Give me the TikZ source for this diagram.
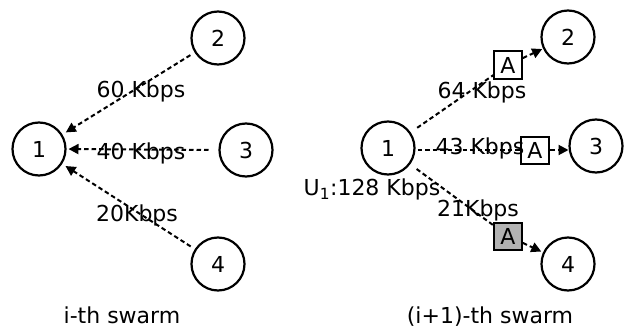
\documentclass[tikz,border=0pt]{standalone}
\usepackage{fontspec}
\setmainfont{DejaVu Sans}
\usetikzlibrary{arrows.meta}
\begin{document}
\begin{tikzpicture}[x=1pt,y=-1pt,
  every node/.style={font=\fontsize{22}{26}\selectfont},
  peer/.style={draw,circle,line width=2.2pt,minimum size=53pt,inner sep=0pt,outer sep=0pt},
  abox/.style={draw,line width=2pt,minimum width=28pt,minimum height=27pt,inner sep=0pt,outer sep=0pt},
  flow/.style={line width=2pt,dash pattern=on 4.5pt off 3pt},
  tip/.style={-{Triangle[length=10pt,width=10pt]}},
  lbl/.style={inner sep=0pt}]
\useasboundingbox (0,0) rectangle (629,329);
% left swarm
\node[peer] (l1) at (39,149) {1};
\node[peer] (l2) at (218,38) {2};
\node[peer] (l3) at (246,150) {3};
\node[peer] (l4) at (218,264) {4};
\draw[flow,tip,shorten <=6pt,shorten >=5pt] (l2) -- (l1);
\draw[flow,tip,shorten <=11pt,shorten >=3pt] (l3.west) -- (l1.east);
\draw[flow,tip,shorten <=6pt,shorten >=5pt] (l4) -- (l1);
\node[lbl] (t60) at (141,91) {60 Kbps};
\node[lbl] (t40) at (141,153) {40 Kbps};
\node[lbl] (t20) at (137,215) {20Kbps};
\node[lbl,anchor=base] (ls) at (122,323) {i-th swarm};
% right swarm
\node[peer] (r1) at (388,148) {1};
\node[peer] (r2) at (568,37) {2};
\node[peer] (r3) at (596,146) {3};
\node[peer] (r4) at (568,264) {4};
\node[abox] (a2) at (508,65) {A};
\node[abox] (a3) at (535,150) {A};
\node[abox,fill=black!30] (a4) at (508,236) {A};
\draw[flow,shorten <=9pt] (r1) -- (a2);
\draw[flow,tip,shorten <=1pt,shorten >=2pt] (a2) -- (r2);
\draw[flow,shorten <=3pt] (r1.east |- a3) -- (a3.west);
\draw[flow,tip,shorten <=1pt,shorten >=1pt] (a3.east) -- (r3.west |- a3);
\draw[flow,shorten <=9pt] (r1) -- (a4);
\draw[flow,tip,shorten <=1pt,shorten >=3pt] (a4) -- (r4);
\node[lbl] (t64) at (482,92) {64 Kbps};
\node[lbl] (t43) at (480,148) {43 Kbps};
\node[lbl] (t21) at (478,210) {21Kbps};
\node[lbl] (tu) at (372,189) {U\textsubscript{1}:128 Kbps};
\node[lbl,anchor=base] (rs) at (490,323) {(i+1)-th swarm};
\end{tikzpicture}
\end{document}
